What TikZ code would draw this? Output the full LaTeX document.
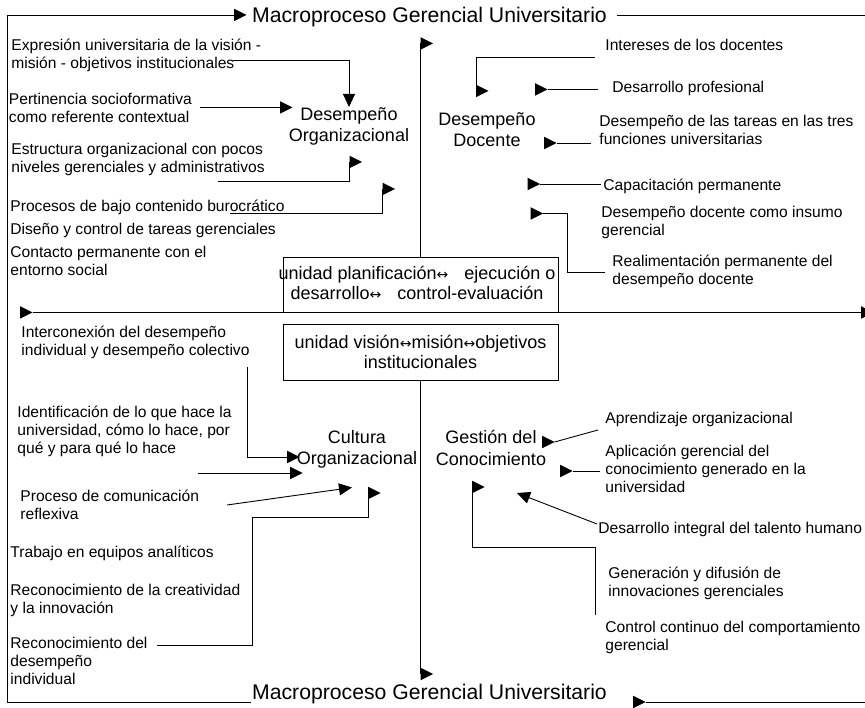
\documentclass[tikz,border=0pt]{standalone}
\usepackage{fontspec}
\setmainfont{Liberation Sans}
\newfontfamily\arrfont{DejaVu Sans}
\usetikzlibrary{shapes.geometric,arrows.meta}
\newcommand\fbody{\fontsize{15.6}{18}\selectfont}
\newcommand\flab{\fontsize{18}{21.5}\selectfont}
\newcommand\fboxt{\fontsize{18}{20}\selectfont}
\newcommand\ftitl{\fontsize{21.2}{24}\selectfont}
\newcommand\smarr{{\arrfont\fontsize{14}{14}\selectfont ↔}}
\tikzset{
  bt/.style={anchor=north west, inner sep=0pt, align=left, font=\fbody, execute at begin node=\strut},
  lab/.style={anchor=north, inner sep=0pt, align=center, font=\flab, execute at begin node=\strut},
  ttl/.style={anchor=base, inner sep=0pt, font=\ftitl},
  boxs/.style={draw, minimum width=275pt, minimum height=55.5pt, inner sep=0pt},
  boxt/.style={inner sep=0pt, align=center, font=\fboxt, execute at begin node=\strut, execute at end node=\strut},
  tri/.style={isosceles triangle, isosceles triangle stretches, fill=black, draw=none, inner sep=0pt, outer sep=0pt, minimum width=12.5pt, minimum height=12.5pt, anchor=west},
  arr/.style={-{Triangle[length=13pt,width=12pt]}}
}
\begin{document}
\begin{tikzpicture}[x=1pt,y=-1pt,line width=0.9pt]
\useasboundingbox (0,0) rectangle (865,708);

% frame and titles
\coordinate (ftl) at (7.5,15);
\coordinate (fbl) at (7.5,702);
\coordinate (fbm) at (251,702);
\coordinate (ftm) at (617,15);
\coordinate (ftr) at (866,15);
\coordinate (fbr) at (866,702);
\node[tri] (ta1) at (234,15) {};
\node[ttl] (tt) at (429.5,23) {Macroproceso Gerencial Universitario};
\node[ttl] (tb) at (429.5,699) {Macroproceso Gerencial Universitario};
\node[tri] (ta2) at (633,702) {};
\draw (ta1.west) -- (ftl) -- (fbl) -- (fbm);
\draw (ftm) -- (ftr);
\draw (ta2.east) -- (fbr);

% central boxes and axes
\node[boxs] (b1) at (420.5,284.75) {};
\node[boxt] (b1t) at (417,285.5) {unidad planificación\smarr\hspace{16pt}ejecución o\\desarrollo\smarr\hspace{16pt}control-evaluación};
\node[boxs, minimum height=56pt] (b2) at (420.5,352) {};
\node[boxt] (b2t) at (420.5,354.4) {unidad visión\smarr misión\smarr objetivos\\institucionales};
\node[tri] (av1) at (420.5,43.5) {};
\draw (b1.north) -- (av1.west);
\node[tri] (ah1) at (20,312.5) {};
\node[tri] (ah2) at (861,312.5) {};
\draw (ah1.east) -- (ah2.west);
\node[tri] (av2) at (420.5,674) {};
\draw (b2.south) -- (av2.west);

% quadrant labels
\node[lab] (dorg) at (349,107) {Desempeño\\Organizacional};
\node[lab] (ddoc) at (487,112) {Desempeño\\Docente};
\node[lab] (corg) at (357,430) {Cultura\\Organizacional};
\node[lab] (gcon) at (491,430) {Gestión del\\Conocimiento};

% top left texts
\node[bt] (t1) at (11,39) {Expresión universitaria de la visión -\\misión - objetivos institucionales};
\node[bt] (t2) at (8.5,93) {Pertinencia socioformativa\\como referente contextual};
\node[bt] (t3) at (11,143) {Estructura organizacional con pocos\\niveles gerenciales y administrativos};
\node[bt] (t4) at (10,198) {Procesos de bajo contenido burocrático};
\node[bt] (t5) at (10,221) {Diseño y control de tareas gerenciales};
\node[bt] (t6) at (10,246) {Contacto permanente con el\\entorno social};

% top right texts
\node[bt] (t13) at (605,37) {Intereses de los docentes};
\node[bt] (t14) at (612,79) {Desarrollo profesional};
\node[bt] (t15) at (599,115) {Desempeño de las tareas en las tres\\funciones universitarias};
\node[bt] (t16) at (603,177) {Capacitación permanente};
\node[bt] (t17) at (601,206) {Desempeño docente como insumo\\gerencial};
\node[bt] (t18) at (612,255) {Realimentación permanente del\\desempeño docente};

% bottom left texts
\node[bt] (t7) at (21,326) {Interconexión del desempeño\\individual y desempeño colectivo};
\node[bt] (t8) at (17,406) {Identificación de lo que hace la\\universidad, cómo lo hace, por\\qué y para qué lo hace};
\node[bt] (t9) at (20,490) {Proceso de comunicación\\reflexiva};
\node[bt] (t10) at (10,544) {Trabajo en equipos analíticos};
\node[bt] (t11) at (10,584) {Reconocimiento de la creatividad\\y la innovación};
\node[bt] (t12) at (10,637) {Reconocimiento del\\desempeño\\individual};

% bottom right texts
\node[bt] (t19) at (605,410) {Aprendizaje organizacional};
\node[bt] (t20) at (605,445) {Aplicación gerencial del\\conocimiento generado en la\\universidad};
\node[bt] (t21) at (598,520) {Desarrollo integral del talento humano};
\node[bt] (t22) at (608,567) {Generación y difusión de\\innovaciones gerenciales};
\node[bt] (t23) at (605,621) {Control continuo del comportamiento\\gerencial};

% connectors top left
\coordinate (c1) at (233,60);
\draw[arr] (c1) -| (dorg.north);
\node[tri] (a2) at (280,107.5) {};
\coordinate (c2) at (200,107.5);
\draw (c2) -- (a2.west);
\node[tri] (a3) at (349.5,162) {};
\coordinate (c3) at (218,181.5);
\draw (c3) -| (a3.west);
\node[tri] (a4) at (382.5,189) {};
\coordinate (c4) at (230,213);
\draw (c4) -| (a4.west);

% connectors top right
\node[tri] (a5) at (476,91) {};
\coordinate (c5) at (595,57);
\draw (c5) -| (a5.west);
\node[tri] (a6) at (535,89.5) {};
\coordinate (c6) at (598,89.5);
\draw (a6.east) -- (c6);
\node[tri] (a7) at (544,143) {};
\coordinate (c7) at (591,143);
\draw (a7.east) -- (c7);
\node[tri] (a8) at (527.5,184) {};
\coordinate (c8) at (601,184);
\draw (a8.east) -- (c8);
\node[tri] (a9) at (530.5,213.5) {};
\coordinate (c9a) at (567,272);
\coordinate (c9) at (605,272);
\draw (a9.east) -| (c9a) -- (c9);

% connectors bottom left
\node[tri] (a10) at (287,457) {};
\coordinate (c10) at (247,367);
\draw (c10) |- (a10.west);
\node[tri] (a11) at (290,473) {};
\coordinate (c11) at (198,473);
\draw (c11) -- (a11.west);
\coordinate (c12) at (227,505);
\coordinate (c12e) at (352,487.5);
\draw[arr] (c12) -- (c12e);
\node[tri] (a13) at (368,493) {};
\coordinate (c13) at (157,645);
\coordinate (c13a) at (252,517);
\draw (c13) -| (c13a) -| (a13.west);

% connectors bottom right
\node[tri] (a14) at (542,442) {};
\coordinate (c14) at (598,430);
\draw (a14.east) -- (c14);
\node[tri] (a15) at (560,471) {};
\coordinate (c15) at (600,471);
\draw (a15.east) -- (c15);
\coordinate (c16) at (597,524);
\coordinate (c16e) at (517,493);
\draw[arr] (c16) -- (c16e);
\node[tri] (a17) at (472,487) {};
\coordinate (c17) at (595,615);
\coordinate (c17a) at (472,547);
\draw (c17) |- (c17a) -- (a17.west);
\end{tikzpicture}
\end{document}
